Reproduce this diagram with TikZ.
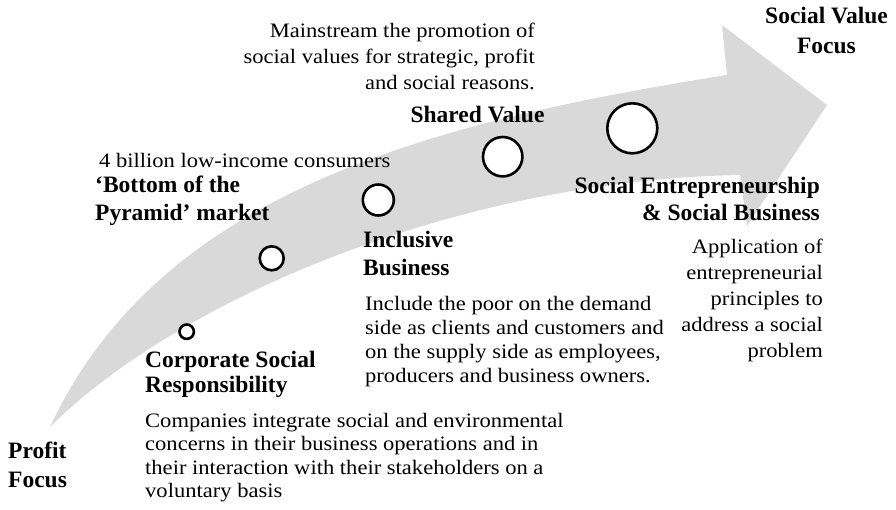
\documentclass[tikz,border=0pt]{standalone}
\usepackage{fontspec}
\setmainfont{Liberation Serif}
\newfontfamily\bodyfont[FakeStretch=1.1]{Liberation Serif}
\usepackage{tikz}
\definecolor{arrowgray}{RGB}{217,217,217}

\begin{document}
\begin{tikzpicture}[
				x=1pt, y=-1pt,
				heading/.style={font=\fontsize{23.5}{#1}\selectfont\bfseries, inner sep=0pt},
				blurb/.style={font=\bodyfont\fontsize{20.5}{#1}\selectfont, inner sep=0pt},
				ring/.style={circle, draw=black, fill=white, line width=2.6pt, inner sep=0pt}
				]
				\useasboundingbox (0,0) rectangle (896,509);

				\fill[arrowgray] (50,427) .. controls (160,191) and (431,122) .. (727,75)
					-- (722,25) -- (827,105) -- (747,226) -- (740,175)
					.. controls (458,180) and (177,300) .. (50,427) -- cycle;

				\node[ring, minimum size=14.4pt] (csr) at (186.7,331.7) {};
				\node[ring, minimum size=24pt] (bop) at (271.7,258.3) {};
				\node[ring, minimum size=31pt] (incl) at (378.3,200) {};
				\node[ring, minimum size=39.4pt] (shared) at (502.7,156.7) {};
				\node[ring, minimum size=50pt] (soc) at (632.3,128.3) {};

				\node[heading=30, align=center, anchor=north] (valuefocus) at (826.5,7) {Social Value\\Focus};
				\node[heading=28.5, align=left, anchor=north west] (profitfocus) at (8,442) {Profit\\Focus};

				\node[blurb=26, align=right, anchor=north east] (sharedtxt) at (535,23) {Mainstream the promotion of\\social values for strategic, profit\\and social reasons.};
				\node[heading=27, anchor=north] (sharedlbl) at (477.5,106) {Shared Value};

				\node[blurb=24, align=left, anchor=north west] (boptxt) at (99,153) {4 billion low-income consumers};
				\node[heading=28, align=left, anchor=north west] (boplbl) at (95,176) {‘Bottom of the\\Pyramid’ market};

				\node[heading=28, align=left, anchor=north west] (incllbl) at (363,231) {Inclusive\\Business};
				\node[blurb=24, align=left, anchor=north west] (incltxt) at (365,296) {Include the poor on the demand\\side as clients and customers and\\on the supply side as employees,\\producers and business owners.};

				\node[heading=27, align=right, anchor=north east] (soclbl) at (820,177) {Social Entrepreneurship\\\& Social Business};
				\node[blurb=26, align=right, anchor=north east] (soctxt) at (823,239) {Application of\\entrepreneurial\\principles to\\address a social\\problem};

				\node[heading=25, align=left, anchor=north west] (csrlbl) at (145,351) {Corporate Social\\Responsibility};
				\node[blurb=23.3, align=left, anchor=north west] (csrtxt) at (145,413) {Companies integrate social and environmental\\concerns in their business operations and in\\their interaction with their stakeholders on a\\voluntary basis};
			\end{tikzpicture}
\end{document}
